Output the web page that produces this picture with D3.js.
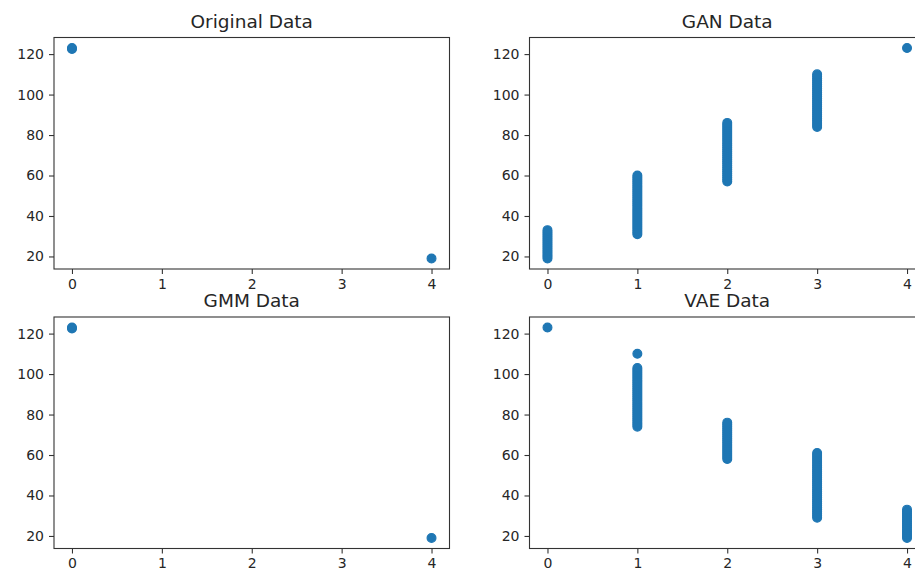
<!DOCTYPE html>
<html>
<head>
<meta charset="utf-8">
<script src="https://cdn.jsdelivr.net/npm/d3@7"></script>
<style>
  html, body { margin: 0; padding: 0; background: #fff; }
  svg { display: block; font-family: "DejaVu Sans", sans-serif; }
</style>
</head>
<body>
<div id="chart"></div>
<script>
// ---- data (y values grouped by x category, index = x) ----
const xTicks = [0, 1, 2, 3, 4];
const yTicks = [20, 40, 60, 80, 100, 120];
const panelTitles = ["Original Data", "GAN Data", "GMM Data", "VAE Data"];

const originalValues = [
  [122.5, 123],
  [],
  [],
  [],
  [19]
];
const ganValues = [
  [19, 20, 21, 22, 23, 24, 25, 26, 27, 28, 29, 30, 31, 32, 33],
  [31, 32, 33, 34, 35, 36, 37, 38, 39, 40, 41, 42, 43, 44, 45, 46, 47, 48, 49, 50,
   51, 52, 53, 54, 55, 56, 57, 58, 59, 60],
  [57, 58, 59, 60, 61, 62, 63, 64, 65, 66, 67, 68, 69, 70, 71, 72, 73, 74, 75, 76,
   77, 78, 79, 80, 81, 82, 83, 84, 85, 86],
  [84, 85, 86, 87, 88, 89, 90, 91, 92, 93, 94, 95, 96, 97, 98, 99, 100, 101, 102,
   103, 104, 105, 106, 107, 108, 109, 110],
  [123]
];
const gmmValues = [
  [122.5, 123],
  [],
  [],
  [],
  [19]
];
const vaeValues = [
  [123],
  [74, 75, 76, 77, 78, 79, 80, 81, 82, 83, 84, 85, 86, 87, 88, 89, 90, 91, 92, 93,
   94, 95, 96, 97, 98, 99, 100, 101, 102, 103, 110],
  [58, 59, 60, 61, 62, 63, 64, 65, 66, 67, 68, 69, 70, 71, 72, 73, 74, 75, 76],
  [29, 30, 31, 32, 33, 34, 35, 36, 37, 38, 39, 40, 41, 42, 43, 44, 45, 46, 47, 48,
   49, 50, 51, 52, 53, 54, 55, 56, 57, 58, 59, 60, 61],
  [19, 20, 21, 22, 23, 24, 25, 26, 27, 28, 29, 30, 31, 32, 33]
];
const panelValues = [originalValues, ganValues, gmmValues, vaeValues];

// ---- layout ----
const W = 915, H = 575;
const cols = [54, 529.5];
const rows = [37.5, 317];
const axW = 395.5, axH = 231.5;
const color = "#1f77b4";
const textColor = "#262626";

const svg = d3.select("#chart").append("svg")
  .attr("width", W).attr("height", H)
  .attr("viewBox", `0 0 ${W} ${H}`);
svg.append("rect").attr("width", W).attr("height", H).attr("fill", "#fff");

const allY = panelValues.flat(2);
const xExt = d3.extent(xTicks);
const yExt = d3.extent(allY);
const xPad = (xExt[1] - xExt[0]) * 0.05;
const yPad = (yExt[1] - yExt[0]) * 0.05;

panelValues.forEach((vals, i) => {
  const x0 = cols[i % 2], y0 = rows[Math.floor(i / 2)];
  const pts = [];
  vals.forEach((arr, xi) => arr.forEach(v => pts.push([xi, v])));

  const x = d3.scaleLinear().domain([xExt[0] - xPad, xExt[1] + xPad]).range([0, axW]);
  const y = d3.scaleLinear().domain([yExt[0] - yPad, yExt[1] + yPad]).range([axH, 0]);

  const g = svg.append("g").attr("transform", `translate(${x0},${y0})`);

  g.append("g").selectAll("circle").data(pts).join("circle")
    .attr("cx", d => x(d[0]))
    .attr("cy", d => y(d[1]))
    .attr("r", 4.4)
    .attr("fill", color)
    .attr("stroke", color)
    .attr("stroke-width", 1.2);

  const xAxis = g.append("g").attr("transform", `translate(0,${axH})`)
    .call(d3.axisBottom(x).tickValues(xTicks).tickFormat(d3.format("d")).tickSize(5).tickPadding(5));
  const yAxis = g.append("g")
    .call(d3.axisLeft(y).tickValues(yTicks).tickFormat(d3.format("d")).tickSize(5).tickPadding(5));
  [xAxis, yAxis].forEach(a => {
    a.select(".domain").remove();
    a.selectAll(".tick line").attr("stroke", "#333").attr("stroke-width", 1.1);
    a.selectAll(".tick text").attr("fill", textColor).style("font-size", "14px")
      .style("font-family", "DejaVu Sans, sans-serif");
  });

  g.append("rect")
    .attr("x", 0).attr("y", 0).attr("width", axW).attr("height", axH)
    .attr("fill", "none").attr("stroke", "#333").attr("stroke-width", 1.1);

  g.append("text")
    .attr("x", axW / 2).attr("y", -10)
    .attr("text-anchor", "middle")
    .attr("fill", textColor)
    .style("font-size", "18.5px")
    .text(panelTitles[i]);
});
</script>
</body>
</html>
